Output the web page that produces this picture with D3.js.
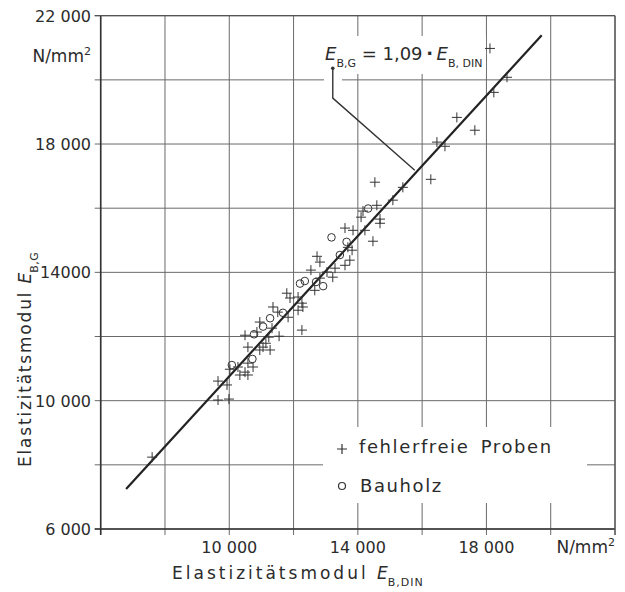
<!DOCTYPE html>
<html>
<head>
<meta charset="utf-8">
<script src="https://cdn.jsdelivr.net/npm/d3@7"></script>
<style>
  body { margin: 0; background: #fff; }
  svg text { font-family: "DejaVu Sans", sans-serif; fill: #2b2b2b; }
</style>
</head>
<body>
<div id="chart"></div>
<script>
// E_B,DIN (x) vs E_B,G (y), N/mm2
var probenPoints = [
  [18110, 20980], [18640, 20080], [18230, 19610], [17080, 18830], [17640, 18430],
  [16460, 18060], [16710, 17930], [16270, 16900], [15400, 16650], [15090, 16250],
  [14530, 16810], [14590, 16090], [14160, 15910], [14100, 15720], [14690, 15660],
  [14690, 15530], [13600, 15380], [13850, 15310], [14220, 15310], [14470, 14970],
  [13690, 14780], [13820, 14690], [13750, 14380], [13600, 14220], [12730, 14500],
  [12820, 14320], [12540, 14070], [13040, 14010], [13290, 14130], [13220, 13850],
  [12820, 13820], [12660, 13440], [11790, 13350], [11890, 13200], [12140, 13230],
  [12260, 13040], [12290, 12920], [11360, 12920], [11510, 12760], [12140, 12820],
  [11830, 12600], [10950, 12450], [11330, 12260], [10860, 12140], [12260, 12200],
  [10490, 12040], [11550, 12010], [11230, 11980], [11140, 11790], [10580, 11670],
  [10950, 11580], [11270, 11580], [11050, 11670], [10580, 11170], [10270, 11050],
  [10740, 11050], [10490, 10890], [10580, 10800], [10020, 10980], [10330, 10800],
  [9650, 10610], [9930, 10490], [9650, 10020], [9990, 10050], [7600, 8240]
]
var bauholzPoints = [
  [14320, 15990], [13180, 15090], [13650, 14950], [13440, 14540], [12700, 13700],
  [12200, 13650], [12350, 13730], [12920, 13570], [11670, 12740], [11270, 12570],
  [11050, 12310], [10770, 12070], [10720, 11300], [10080, 11110]
]
// regression line E_B,G = 1,09 * E_B,DIN, end points as drawn
var fitDin = [6790, 19720]
var fitG = [7250, 21390]
// leader from the formula to the line
var leaderDin = [13220, 13220, 15770]
var leaderG = [20360, 19430, 17180]

var gridValues = [6000, 8000, 10000, 12000, 14000, 16000, 18000, 20000, 22000]
var xTickValues = [10000, 14000, 18000]
var xTickLabels = ["10 000", "14 000", "18 000"]
var yTickValues = [6000, 10000, 14000, 18000, 22000]
var yTickLabels = ["6 000", "10 000", "14000", "18 000", "22 000"]

var width = 625, height = 592
var plot = { left: 100.7, right: 615, top: 15.7, bottom: 529 }

var svg = d3.select("#chart").append("svg")
  .attr("width", width)
  .attr("height", height)

var x = d3.scaleLinear().domain([6000, 22000]).range([plot.left, plot.right])
var y = d3.scaleLinear().domain([6000, 22000]).range([plot.bottom, plot.top])

// grid
var grid = svg.append("g").attr("stroke", "#6a6a6a").attr("stroke-width", 1)
gridValues.forEach(function(v) {
  grid.append("line")
    .attr("x1", x(v)).attr("x2", x(v))
    .attr("y1", plot.top).attr("y2", plot.bottom + 6)
  grid.append("line")
    .attr("x1", plot.left - 6).attr("x2", plot.right)
    .attr("y1", y(v)).attr("y2", y(v))
})

// white patches behind the legend and the formula
svg.append("rect").attr("x", 323).attr("y", 427).attr("width", 264).attr("height", 76).attr("fill", "#fff")
svg.append("rect").attr("x", 320).attr("y", 36).attr("width", 166).attr("height", 38).attr("fill", "#fff")
svg.append("rect").attr("x", 324).attr("y", 74).attr("width", 18).attr("height", 14).attr("fill", "#fff")

// frame
svg.append("line").attr("x1", plot.left).attr("x2", plot.left).attr("y1", plot.top).attr("y2", plot.bottom + 6)
  .attr("stroke", "#333").attr("stroke-width", 1.6)
svg.append("line").attr("x1", plot.left - 6).attr("x2", plot.right).attr("y1", plot.bottom).attr("y2", plot.bottom)
  .attr("stroke", "#333").attr("stroke-width", 1.6)
svg.append("line").attr("x1", plot.right).attr("x2", plot.right).attr("y1", plot.top).attr("y2", plot.bottom + 6)
  .attr("stroke", "#555").attr("stroke-width", 1.3)
svg.append("line").attr("x1", plot.left - 6).attr("x2", plot.right).attr("y1", plot.top).attr("y2", plot.top)
  .attr("stroke", "#555").attr("stroke-width", 1.3)

// tick labels
svg.selectAll(".xlab").data(xTickValues).enter().append("text")
  .attr("class", "xlab")
  .attr("x", function(d) { return x(d) })
  .attr("y", 553)
  .attr("text-anchor", "middle")
  .style("font-size", "16px")
  .text(function(d, i) { return xTickLabels[i] })
svg.append("text").attr("x", 615).attr("y", 553).attr("text-anchor", "end")
  .style("font-size", "17px").html("N/mm<tspan dy='-7' font-size='11px'>2</tspan>")

svg.selectAll(".ylab").data(yTickValues).enter().append("text")
  .attr("class", "ylab")
  .attr("x", 91)
  .attr("y", function(d) { return y(d) + 6 })
  .attr("text-anchor", "end")
  .style("font-size", "16px")
  .text(function(d, i) { return yTickLabels[i] })
svg.append("text").attr("x", 91).attr("y", 62).attr("text-anchor", "end")
  .style("font-size", "17px").html("N/mm<tspan dy='-7' font-size='11px'>2</tspan>")

// axis titles
svg.append("text").attr("x", 172).attr("y", 579)
  .style("font-size", "17px").style("letter-spacing", "3px")
  .html("Elastizitätsmodul <tspan font-style='italic' letter-spacing='0'>E</tspan>" +
        "<tspan dy='7' font-size='11px' letter-spacing='1px'>B,DIN</tspan>")
svg.append("text")
  .attr("transform", "translate(31,467) rotate(-90)")
  .style("font-size", "17px").style("letter-spacing", "1.8px")
  .html("Elastizitätsmodul <tspan font-style='italic' letter-spacing='0'>E</tspan>" +
        "<tspan dy='7' font-size='11px' letter-spacing='0.5px'>B,G</tspan>")

// regression line
var line = d3.line().x(function(d) { return x(d[0]) }).y(function(d) { return y(d[1]) })
svg.append("path")
  .datum(fitDin.map(function(d, i) { return [d, fitG[i]] }))
  .attr("d", line)
  .attr("fill", "none").attr("stroke", "#222").attr("stroke-width", 2.2)

// leader
var leader = leaderDin.map(function(d, i) { return [d, leaderG[i]] })
svg.append("path").datum(leader).attr("d", line)
  .attr("fill", "none").attr("stroke", "#333").attr("stroke-width", 1.4)
svg.append("circle").attr("cx", x(leader[0][0])).attr("cy", y(leader[0][1])).attr("r", 1.8).attr("fill", "#333")

// formula
svg.append("text").attr("x", 325).attr("y", 60)
  .style("font-size", "18px")
  .html("<tspan font-style='italic'>E</tspan><tspan dy='7' font-size='11px'>B,G</tspan>" +
        "<tspan dy='-7'> = 1,09\u2009</tspan><tspan font-weight='bold'>·</tspan>" +
        "<tspan font-style='italic'>\u2009E</tspan><tspan dy='7' font-size='11px'>B, DIN</tspan>")

// points
svg.selectAll(".probe").data(probenPoints).enter().append("path")
  .attr("class", "probe")
  .attr("d", "M-5,0H5M0,-5V5")
  .attr("transform", function(d) { return "translate(" + x(d[0]) + "," + y(d[1]) + ")" })
  .attr("stroke", "#333").attr("stroke-width", 1).attr("fill", "none")
svg.selectAll(".bauholz").data(bauholzPoints).enter().append("circle")
  .attr("class", "bauholz")
  .attr("cx", function(d) { return x(d[0]) })
  .attr("cy", function(d) { return y(d[1]) })
  .attr("r", 3.8)
  .attr("stroke", "#333").attr("stroke-width", 1).attr("fill", "none")

// legend
svg.append("path").attr("d", "M337,449H347M342,444V454").attr("stroke", "#333").attr("stroke-width", 1.2)
svg.append("text").attr("x", 359).attr("y", 453)
  .style("font-size", "18px").style("letter-spacing", "1.6px").style("word-spacing", "4px")
  .text("fehlerfreie Proben")
svg.append("circle").attr("cx", 342).attr("cy", 486).attr("r", 3.5)
  .attr("stroke", "#333").attr("stroke-width", 1.2).attr("fill", "none")
svg.append("text").attr("x", 360).attr("y", 492)
  .style("font-size", "18px").style("letter-spacing", "1.6px")
  .text("Bauholz")
</script>
</body>
</html>
